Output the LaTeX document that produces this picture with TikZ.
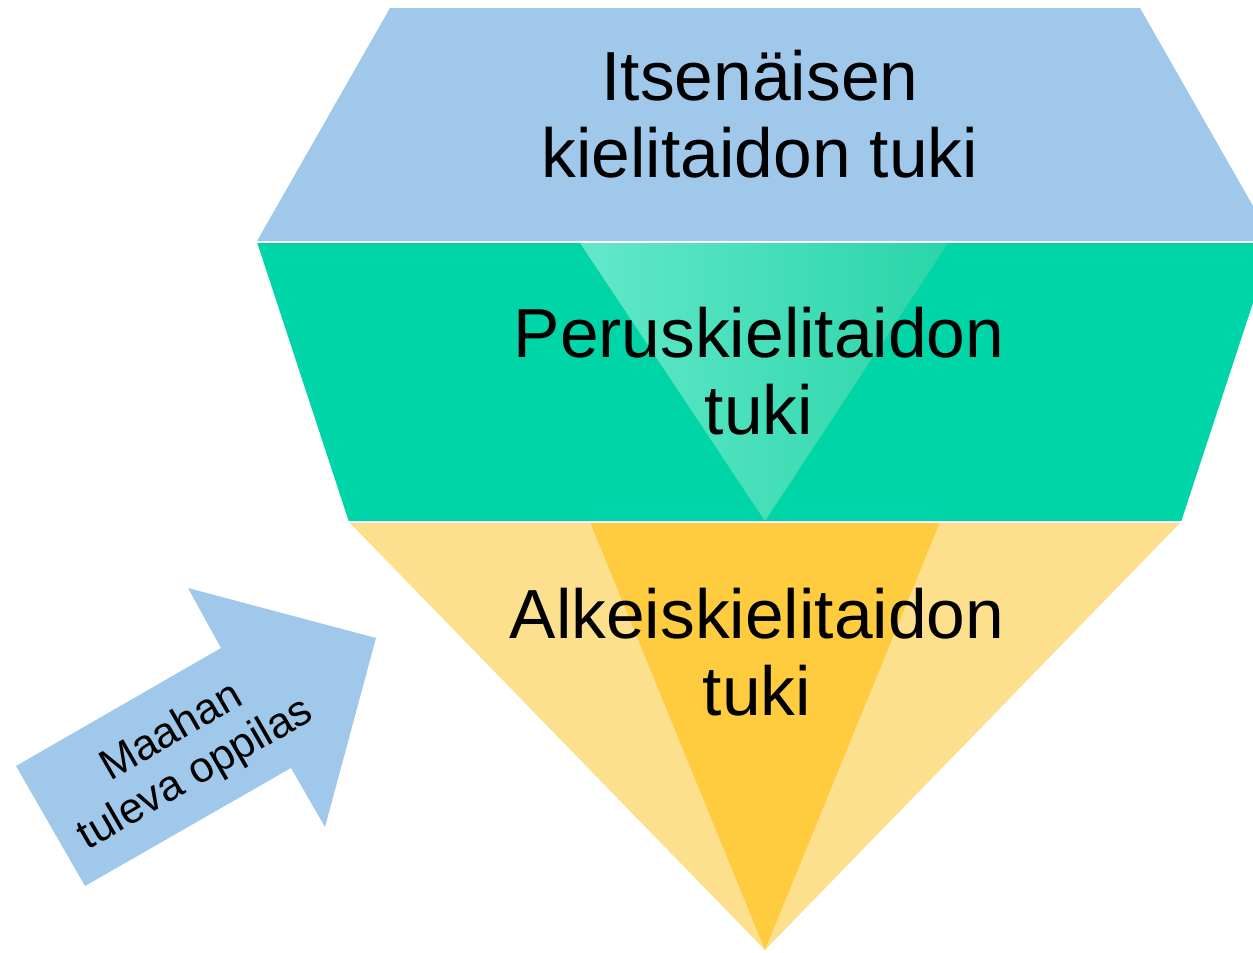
\documentclass[tikz,border=0pt]{standalone}
\usepackage{fontspec}
\setmainfont{Liberation Sans}
\begin{document}
\begin{tikzpicture}[x=1pt,y=-1pt,
  bigtext/.style={font=\fontsize{69.5}{77}\selectfont, align=center, text=black, inner sep=0pt},
  arrowtext/.style={font=\fontsize{43}{48}\selectfont, align=center, text=black, inner sep=0pt, rotate=30},
  gap/.style={draw=white, line width=2pt}]
\definecolor{blueband}{RGB}{159,200,234}
\definecolor{greenband}{RGB}{0,213,168}
\definecolor{gradleft}{RGB}{98,232,202}
\definecolor{gradright}{RGB}{42,213,168}
\definecolor{yellowlight}{RGB}{253,224,142}
\definecolor{yellowdark}{RGB}{255,204,64}
\useasboundingbox (0,0) rectangle (1253,953);
\clip (0,0) rectangle (1253,953);
% top band
\fill[blueband] (390,8) -- (1140,8) -- (1273,241) -- (257,241) -- cycle;
% middle band
\fill[greenband] (257,242) -- (1273,242) -- (1181,522) -- (349,522) -- cycle;
\shade[left color=gradleft, right color=gradright] (580,243) -- (948,243) -- (765,521) -- cycle;
% bottom band
\fill[yellowlight] (349,522) -- (1181,522) -- (765,950) -- cycle;
\fill[yellowdark] (590,522) -- (940,522) -- (765,950) -- cycle;
% separators
\coordinate (s1l) at (240,242); \coordinate (s1r) at (1273,242);
\coordinate (s2l) at (330,522); \coordinate (s2r) at (1200,522);
\draw[gap] (s1l) -- (s1r);
\draw[gap] (s2l) -- (s2r);
% texts
\node[bigtext] (t1) at (760,114) {Itsenäisen\\kielitaidon tuki};
\node[bigtext] (t2) at (759,371) {Peruskielitaidon\\tuki};
\node[bigtext] (t3) at (757,652) {Alkeiskielitaidon\\tuki};
% arrow
\fill[blueband] (16,766) -- (221,648) -- (188,588) -- (376,638) -- (325,827) -- (291,768) -- (85,886) -- cycle;
\node[arrowtext] (at) at (184,754) {Maahan\\tuleva oppilas};
\end{tikzpicture}
\end{document}
